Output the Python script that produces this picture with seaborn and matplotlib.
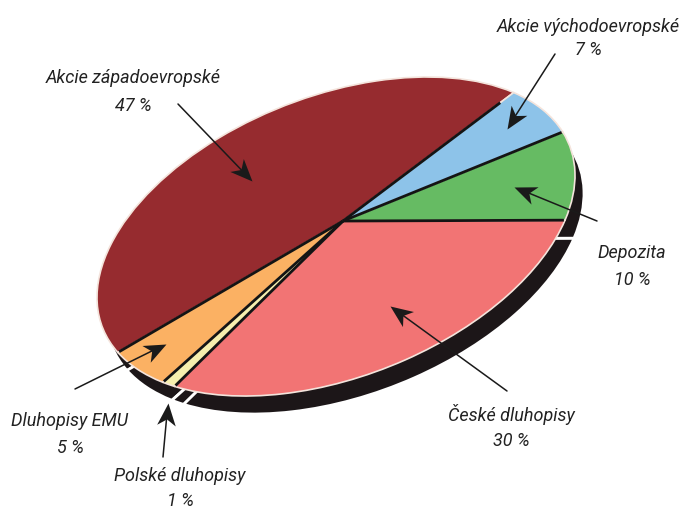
import numpy as np
import matplotlib
matplotlib.use("Agg")
import matplotlib.pyplot as plt
from matplotlib.markers import MarkerStyle
from matplotlib.path import Path
from matplotlib.transforms import Affine2D
import seaborn as sns

labels = ["Akcie západoevropské", "Dluhopisy EMU", "Polské dluhopisy",
          "České dluhopisy", "Depozita", "Akcie východoevropské"]
values = [47, 5, 1, 30, 10, 7]
colors = ["#962B2F", "#FBB163", "#F6EFAE", "#F27474", "#66BB63", "#8DC3E9"]

sns.set_theme(style="white")
plt.rcParams["font.family"] = ["Roboto", "Liberation Sans", "DejaVu Sans"]
palette = sns.color_palette(colors)

# page geometry of the tilted, perspective pie
CX, CY = 336, 237.5
LXX, LYX, LYY = 239, 61, 147.4
APEX = np.array([0.029, 0.093])
START = 39
SHADOW = (9, 18)


def project(p, offset=(0, 0)):
    p = np.atleast_2d(p).astype(float)
    a = APEX
    n2 = a @ a
    dot = p @ a
    par = np.outer(dot / n2, a)
    perp = p - par
    q = (par + a + np.sqrt(1 - n2) * perp) / (1 + dot)[:, None]
    x = CX + LXX * q[:, 0] + offset[0]
    y = CY - (LYX * q[:, 0] + LYY * q[:, 1]) + offset[1]
    return np.column_stack([x, y])


fig = plt.figure(figsize=(6.81, 5.10), dpi=100, facecolor="white")
ax = fig.add_axes([0, 0, 1, 1])

shadow, _ = ax.pie(values, colors=["#1C1618"] * len(values), startangle=START,
                   counterclock=True,
                   wedgeprops=dict(edgecolor="white", linewidth=2, zorder=1))
for w in shadow:
    path = w.get_path()
    path.vertices = project(path.vertices, SHADOW)

top, _ = ax.pie(values, colors=palette, startangle=START, counterclock=True,
                wedgeprops=dict(edgecolor="#F4E4DC", linewidth=1.2, zorder=2))
for w in top:
    path = w.get_path()
    path.vertices = project(path.vertices)

# black radial separators
reach = [0.92, 1, 1, 1, 1, 1]
edges = np.cumsum([0] + values[:-1]) / sum(values) * 2 * np.pi + np.deg2rad(START)
for ang, r in zip(edges, reach):
    d = np.array([np.cos(ang), np.sin(ang)])
    seg = project(np.array([d * t for t in (0, r * 0.995)]))
    ax.plot(seg[:, 0], seg[:, 1], color="#141414", lw=2.0, zorder=3,
            solid_capstyle="butt")

ax.set_xlim(0, 681)
ax.set_ylim(510, 0)
ax.set_aspect("equal")
ax.axis("off")

label_pos = [(133, 78), (70, 421), (180, 476), (511, 415), (632, 253), (588, 27)]
pct_pos = [(133, 106), (70, 448), (180, 501), (511, 441), (632, 280), (588, 50)]
arrows = [((178, 105), (252, 182)), ((75, 390), (166, 345)), ((163, 458), (168, 404)),
          ((507, 392), (390, 307)), ((597, 222), (514, 188)), ((555, 55), (507, 130))]

HEAD = Path([(0, 0), (-1, 0.42), (-0.72, 0), (-1, -0.42), (0, 0)], closed=True)

for name, v, lp, pp, (tail, tip) in zip(labels, values, label_pos, pct_pos, arrows):
    ax.text(*lp, name, style="italic", fontsize=13, ha="center", va="center",
            color="#222222", zorder=6, clip_on=False)
    ax.text(*pp, f"{v} %", style="italic", fontsize=13, ha="center", va="center",
            color="#222222", zorder=6, clip_on=False)
    dx, dy = tip[0] - tail[0], tip[1] - tail[1]
    length = np.hypot(dx, dy)
    back = 14 / length
    ax.plot([tail[0], tip[0] - dx * back], [tail[1], tip[1] - dy * back],
            color="#1A1A1A", lw=1.1, zorder=5)
    # screen y runs upward while the page y runs downward
    angle = np.arctan2(-dy, dx)
    marker = MarkerStyle(HEAD, transform=Affine2D().rotate(angle))
    ax.plot([tip[0]], [tip[1]], marker=marker, ms=32, mew=0, color="#1A1A1A",
            linestyle="none", zorder=5, clip_on=False)

fig.savefig("out.png", dpi=100, facecolor="white")
